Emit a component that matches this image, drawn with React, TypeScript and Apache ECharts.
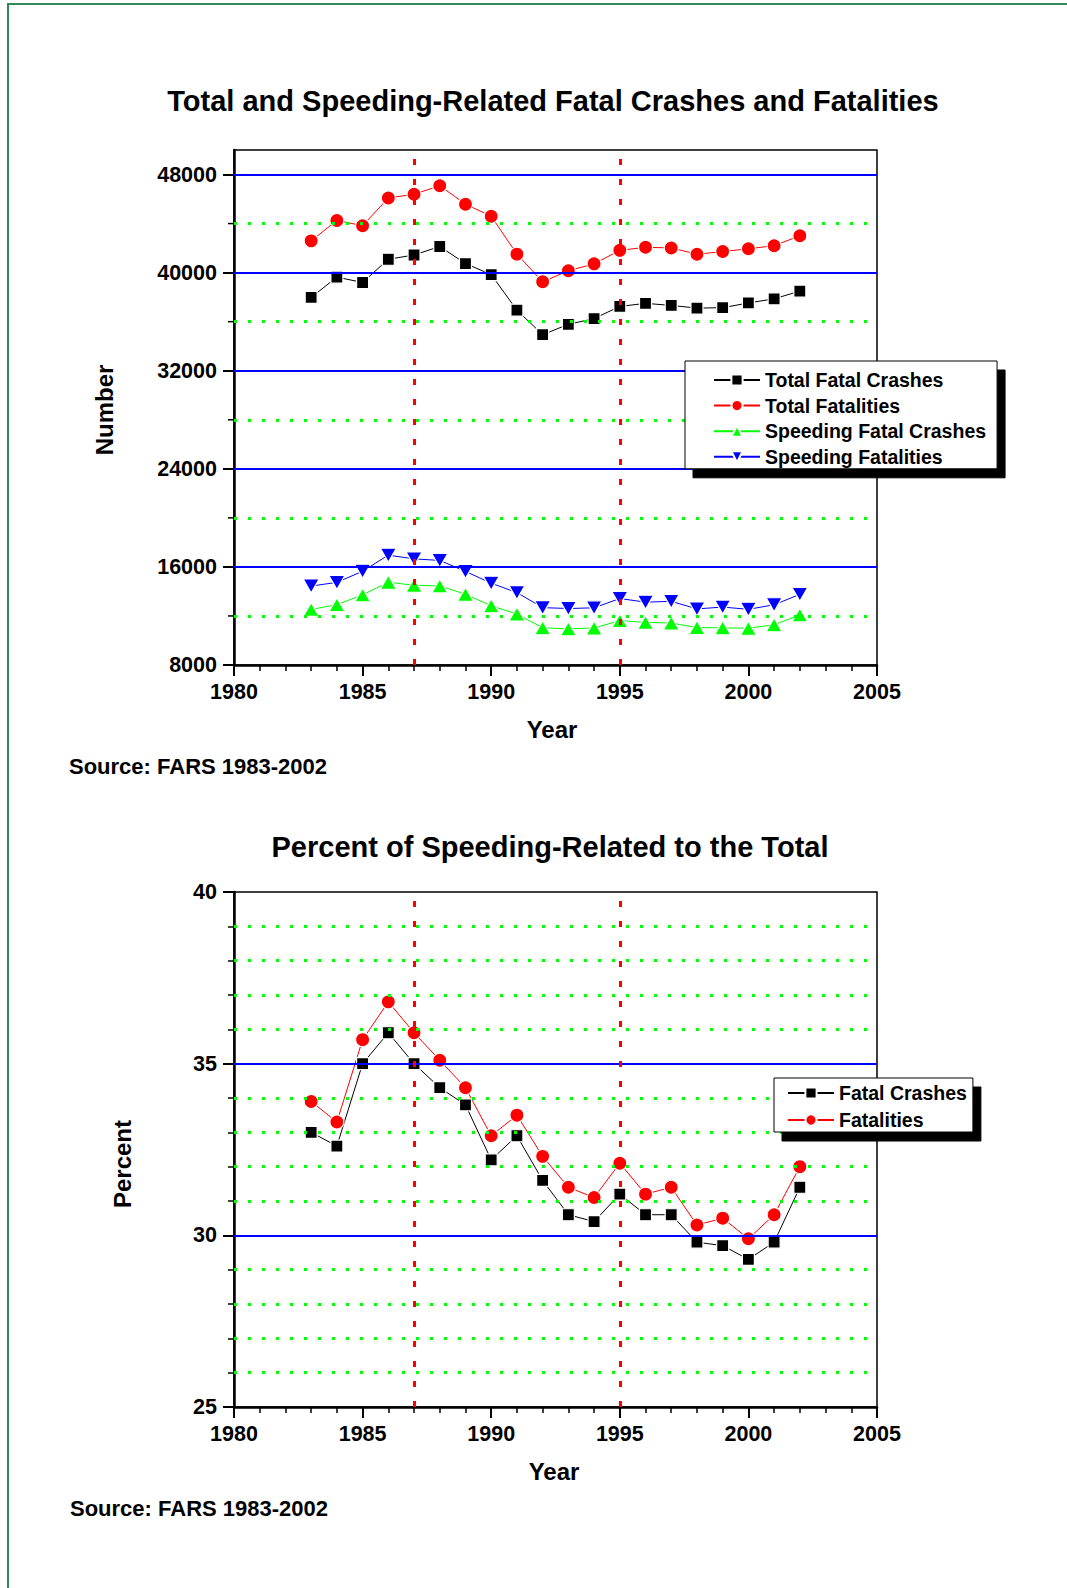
import React, { useEffect, useRef } from 'react';
import * as echarts from 'echarts';

const years = [1983, 1984, 1985, 1986, 1987, 1988, 1989, 1990, 1991, 1992, 1993, 1994, 1995, 1996, 1997, 1998, 1999, 2000, 2001, 2002];

const totalCrashes = [37976, 39631, 39196, 41090, 41438, 42130, 40741, 39836, 36937, 34942, 35780, 36254, 37241, 37494, 37324, 37107, 37140, 37526, 37862, 38491];
const totalFatalities = [42589, 44257, 43825, 46087, 46390, 47087, 45582, 44599, 41508, 39250, 40150, 40716, 41817, 42065, 42013, 41501, 41717, 41945, 42196, 43005];
const speedingCrashes = [12532, 12920, 13719, 14751, 14503, 14451, 13770, 12827, 12152, 11042, 10949, 11021, 11619, 11473, 11421, 11058, 11031, 10995, 11283, 12086];
const speedingFatalities = [14438, 14738, 15646, 16960, 16654, 16528, 15635, 14673, 13905, 12678, 12607, 12663, 13423, 13124, 13192, 12575, 12724, 12542, 12912, 13762];

const pctCrashes = [33.0, 32.6, 35.0, 35.9, 35.0, 34.3, 33.8, 32.2, 32.9, 31.6, 30.6, 30.4, 31.2, 30.6, 30.6, 29.8, 29.7, 29.3, 29.8, 31.4];
const pctFatalities = [33.9, 33.3, 35.7, 36.8, 35.9, 35.1, 34.3, 32.9, 33.5, 32.3, 31.4, 31.1, 32.1, 31.2, 31.4, 30.3, 30.5, 29.9, 30.6, 32.0];

const xMin = 1980;
const xMax = 2005;
const topYMin = 8000;
const topYMax = 50000;
const topMajorTicks = [8000, 16000, 24000, 32000, 40000, 48000];
const topMinorTicks = [12000, 20000, 28000, 36000, 44000];
const topBlueLines = [16000, 24000, 32000, 40000, 48000];
const topGreenLines = [12000, 20000, 28000, 36000, 44000];
const botYMin = 25;
const botYMax = 40;
const botBlueLines = [30, 35];
const botGreenLines = [26, 27, 28, 29, 31, 32, 33, 34, 36, 37, 38, 39];
const refYears = [1987, 1995];

const legendTop = ['Total Fatal Crashes', 'Total Fatalities', 'Speeding Fatal Crashes', 'Speeding Fatalities'];
const legendBottom = ['Fatal Crashes', 'Fatalities'];

const FONT = '"Liberation Sans", Arial, Helvetica, sans-serif';
const downTriangle = 'path://M0,0L10,0L5,9Z';

function pairs(vals: number[]) {
  return years.map((y, i) => [y, vals[i]]);
}

export default function App() {
  const ref = useRef<HTMLDivElement>(null);
  useEffect(() => {
    const chart = echarts.init(ref.current as HTMLDivElement, null, { renderer: 'svg' });

    const axisLine = { show: true, onZero: false, lineStyle: { color: '#000', width: 2.5 } };
    const tickStyle = { color: '#000', width: 2 };
    const labelStyle = { color: '#000', fontFamily: FONT, fontWeight: 'bold' as const, fontSize: 21.5 };

    const xAxisFor = (gridIndex: number) => ({
      type: 'value', gridIndex, min: xMin, max: xMax, interval: 5,
      axisLine,
      axisTick: { show: true, length: 11, lineStyle: tickStyle },
      minorTick: { show: true, splitNumber: 5, length: 6, lineStyle: { color: '#000', width: 1.5 } },
      axisLabel: { ...labelStyle, margin: 16, formatter: (v: number) => String(v) },
      splitLine: { show: false },
      minorSplitLine: { show: false },
    });

    const markLineData = (blue: number[], green: number[]) => [
      ...blue.map((v) => ({ yAxis: v, lineStyle: { color: '#0000ff', width: 2, type: 'solid' } })),
      ...green.map((v) => ({ yAxis: v, lineStyle: { color: '#00ff00', width: 3, type: [3, 11] } })),
      ...refYears.map((v) => ({ xAxis: v, lineStyle: { color: '#ff0000', width: 3, type: [6, 14] } })),
    ];

    const gridSeries = (idx: number, blue: number[], green: number[]) => ({
      type: 'line', name: '_grid' + idx, xAxisIndex: idx, yAxisIndex: idx, data: [], silent: true, z: 1,
      markLine: {
        silent: true, symbol: ['none', 'none'], label: { show: false }, animation: false,
        emphasis: { disabled: true },
        data: markLineData(blue, green),
      },
    });

    const lineSeries = (name: string, idx: number, vals: number[], color: string, symbol: string, size: number | number[]) => ({
      name, type: 'line', xAxisIndex: idx, yAxisIndex: idx, data: pairs(vals),
      symbol, symbolSize: size, showSymbol: true, z: 3,
      lineStyle: { color, width: 1 },
      itemStyle: { color, borderColor: '#fff', borderWidth: 1.2 },
      emphasis: { disabled: true },
    });

    const legendText = { fontFamily: FONT, fontWeight: 'bold' as const, fontSize: 19.5, color: '#000', lineHeight: 20 };
    const legendBase = {
      orient: 'vertical', itemWidth: 46, itemHeight: 14, backgroundColor: '#fff',
      borderColor: '#000', borderWidth: 1, shadowColor: '#000', shadowBlur: 0,
      shadowOffsetX: 8, shadowOffsetY: 9, textStyle: legendText, selectedMode: false, z: 10,
    };

    const textEl = (text: string, x: number, y: number, size: number, align: string, rotation = 0) => ({
      type: 'text', x, y, rotation, z: 20,
      style: {
        text, fill: '#000', fontFamily: FONT, fontWeight: 'bold', fontSize: size,
        align, textAlign: align, verticalAlign: 'middle', textVerticalAlign: 'middle',
      },
    });

    const option = {
      animation: false,
      backgroundColor: '#fff',
      grid: [
        { left: 234, top: 150, width: 643, height: 515, show: true, borderColor: '#000', borderWidth: 1.5, backgroundColor: 'transparent' },
        { left: 234, top: 892, width: 643, height: 515, show: true, borderColor: '#000', borderWidth: 1.5, backgroundColor: 'transparent' },
      ],
      xAxis: [xAxisFor(0), xAxisFor(1)],
      yAxis: [
        {
          type: 'value', gridIndex: 0, min: topYMin, max: topYMax, interval: 8000,
          axisLine,
          axisTick: { show: true, length: 11, lineStyle: tickStyle, customValues: topMajorTicks },
          axisLabel: { ...labelStyle, margin: 17, customValues: topMajorTicks, formatter: (v: number) => (v > 48000 ? '' : String(v)) },
          splitLine: { show: false },
        },
        {
          type: 'value', gridIndex: 1, min: botYMin, max: botYMax, interval: 5,
          axisLine,
          axisTick: { show: true, length: 11, lineStyle: tickStyle },
          minorTick: { show: true, splitNumber: 5, length: 6, lineStyle: { color: '#000', width: 1.5 } },
          axisLabel: { ...labelStyle, margin: 17, formatter: (v: number) => String(v) },
          splitLine: { show: false },
          minorSplitLine: { show: false },
        },
      ],
      legend: [
        { ...legendBase, data: legendTop, left: 685, top: 361, padding: [9, 11, 2, 28], itemGap: 5.6 },
        { ...legendBase, data: legendBottom, left: 774, top: 1078, padding: [5, 6, 2, 13], itemGap: 7 },
      ],
      series: [
        gridSeries(0, topBlueLines, topGreenLines),
        gridSeries(1, botBlueLines, botGreenLines),
        {
          type: 'custom', name: '_minorTicks', xAxisIndex: 0, yAxisIndex: 0, silent: true, clip: false, z: 5,
          data: topMinorTicks.map((v) => [xMin, v]),
          renderItem: (params: any, api: any) => {
            const p = api.coord([api.value(0), api.value(1)]);
            return { type: 'line', shape: { x1: p[0] - 6, y1: p[1], x2: p[0], y2: p[1] }, style: { stroke: '#000', lineWidth: 1.5 } };
          },
        },
        lineSeries('Total Fatal Crashes', 0, totalCrashes, '#000000', 'rect', 12),
        lineSeries('Total Fatalities', 0, totalFatalities, '#ff0000', 'circle', 14),
        lineSeries('Speeding Fatal Crashes', 0, speedingCrashes, '#00ff00', 'triangle', [16, 14]),
        lineSeries('Speeding Fatalities', 0, speedingFatalities, '#0000ff', downTriangle, [16, 14]),
        lineSeries('Fatal Crashes', 1, pctCrashes, '#000000', 'rect', 12),
        lineSeries('Fatalities', 1, pctFatalities, '#ff0000', 'circle', 14),
      ],
      graphic: [
        { type: 'line', shape: { x1: 7, y1: 4, x2: 1067, y2: 4 }, style: { stroke: '#2e8b57', lineWidth: 2 }, z: 20 },
        { type: 'line', shape: { x1: 8, y1: 4, x2: 8, y2: 1588 }, style: { stroke: '#2e8b57', lineWidth: 2 }, z: 20 },
        textEl('Total and Speeding-Related Fatal Crashes and Fatalities', 553, 101, 29, 'center'),
        textEl('Percent of Speeding-Related to the Total', 550, 847, 29, 'center'),
        textEl('Number', 104, 410, 24, 'center', Math.PI / 2),
        textEl('Percent', 122, 1164, 24, 'center', Math.PI / 2),
        textEl('Year', 552, 729, 24, 'center'),
        textEl('Year', 554, 1471, 24, 'center'),
        textEl('Source: FARS 1983-2002', 69, 766, 22, 'left'),
        textEl('Source: FARS 1983-2002', 70, 1508, 22, 'left'),
      ],
    };

    chart.setOption(option as any);
    return () => chart.dispose();
  }, []);

  return (
    <div
      ref={ref}
      style={{ position: 'absolute', left: 0, top: 0, width: 1067, height: 1588, background: '#fff' }}
    />
  );
}
